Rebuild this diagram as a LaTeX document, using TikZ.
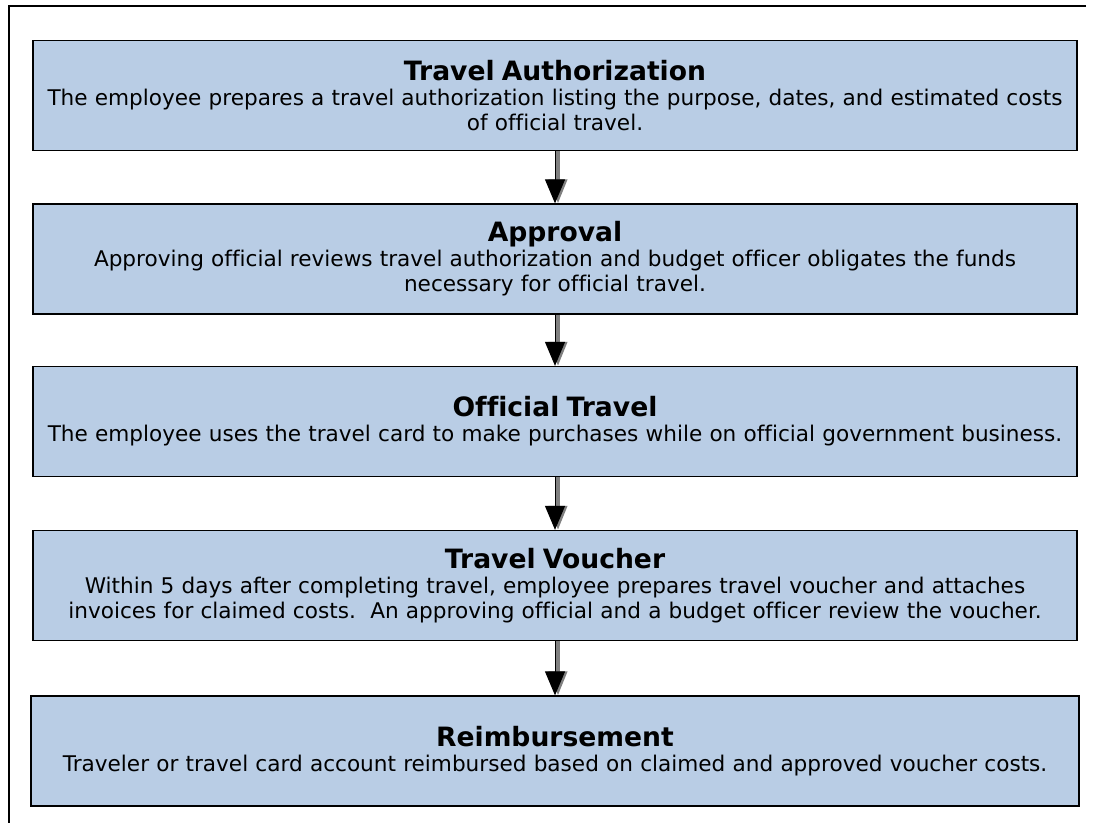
\documentclass[tikz,border=0pt]{standalone}
\usepackage{fontspec}
\setmainfont[Ligatures=NoCommon]{DejaVu Sans}
\usetikzlibrary{arrows.meta}

\definecolor{boxblue}{HTML}{B9CDE5}

\tikzset{
  stagebox/.style={draw=black, line width=1.3pt, fill=boxblue, minimum width=1044pt,
    minimum height=110pt, text width=1040pt, align=center, inner sep=0pt,
    font=\fontsize{21.6}{25}\selectfont},
  flowarrow/.style={line width=1pt, -{Triangle[length=24pt,width=20pt]}},
  flowshadow/.style={gray, line width=4pt, -{Triangle[length=24pt,width=18pt]}}
}
\newcommand{\stagetitle}[1]{{\fontsize{26.6}{27}\selectfont\bfseries #1}}

\begin{document}
\begin{tikzpicture}[x=1pt, y=-1pt]
\useasboundingbox (0,0) rectangle (1093,823);
% frame
\draw [line width=2pt] (1086,6) -- (9,6) -- (9,823);

\node [stagebox] (ta) at (555,95.5) {\stagetitle{Travel Authorization}\\
The employee prepares a travel authorization listing the purpose, dates, and estimated costs\\ of official travel.};
\node [stagebox] (ap) at (555,259) {\stagetitle{Approval}\\
Approving official reviews travel authorization and budget officer obligates the funds\\ necessary for official travel.};
\node [stagebox] (ot) at (555,421.5) {\stagetitle{Official Travel}\\
The employee uses the travel card to make purchases while on official government business.};
\node [stagebox] (tv) at (555,585.5) {\stagetitle{Travel Voucher}\\
Within 5 days after completing travel, employee prepares travel voucher and attaches\\ invoices for claimed costs.\ \ An approving official and a budget officer review the voucher.};
\node [stagebox, minimum width=1048pt] (rb) at (555,751) {\stagetitle{Reimbursement}\\
Traveler or travel card account reimbursed based on claimed and approved voucher costs.};

% arrows
\foreach \a/\b in {ta/ap, ap/ot, ot/tv, tv/rb} {
  \draw [flowshadow] ([xshift=3pt]\a.south) -- ([xshift=3pt]\b.north);
  \draw [flowarrow] (\a.south) -- (\b.north);
}
\end{tikzpicture}
\end{document}
